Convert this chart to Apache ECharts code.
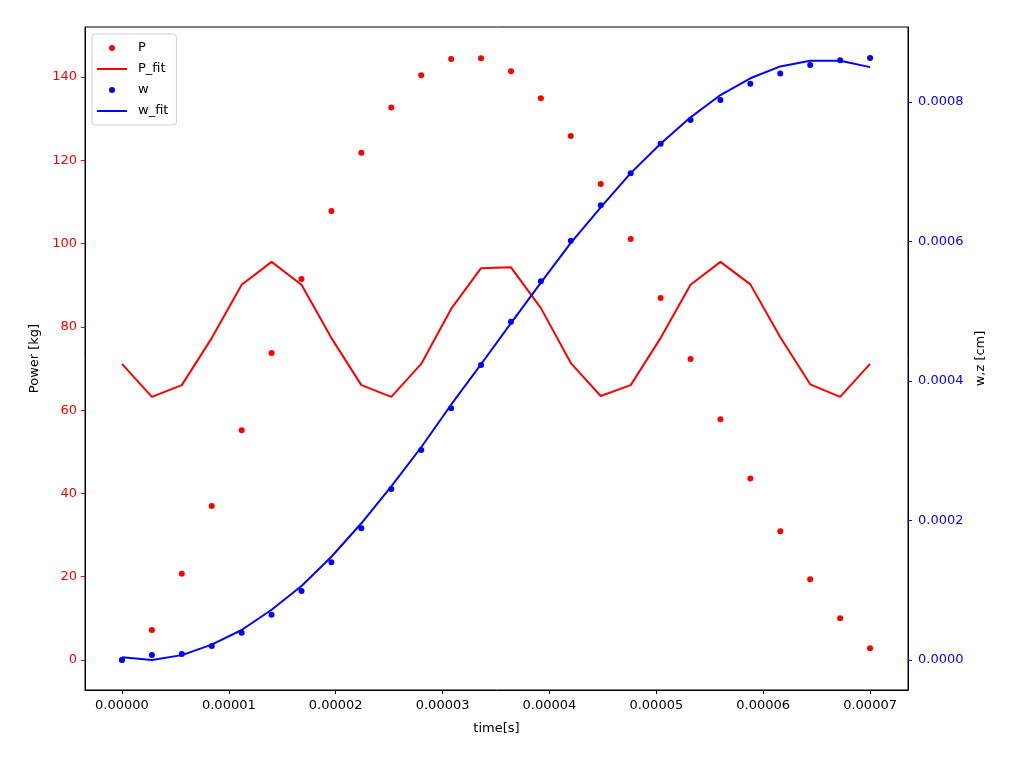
<!DOCTYPE html>
<html>
<head>
<meta charset="utf-8">
<title>Power / w fit</title>
<script src="https://cdn.jsdelivr.net/npm/echarts@6/dist/echarts.min.js"></script>
<style>
  html, body { margin: 0; padding: 0; background: #fff; }
  #chart { width: 1032px; height: 766px; }
</style>
</head>
<body>
<div id="chart"></div>
<script>
// 时间 (s)
const times = [0, 0.0000028, 0.0000056, 0.0000084, 0.0000112, 0.000014, 0.0000168, 0.0000196,
  0.0000224, 0.0000252, 0.000028, 0.0000308, 0.0000336, 0.0000364, 0.0000392, 0.000042,
  0.0000448, 0.0000476, 0.0000504, 0.0000532, 0.000056, 0.0000588, 0.0000616, 0.0000644,
  0.0000672, 0.00007]
// 左轴 Power [kg]
const pValues = [0, 7.2, 20.7, 37.0, 55.2, 73.7, 91.5, 107.8, 121.8, 132.7, 140.4, 144.3, 144.5,
  141.4, 134.9, 125.8, 114.3, 101.1, 86.9, 72.3, 57.8, 43.6, 30.9, 19.4, 10.0, 2.8]
const pFit = [71.1, 63.2, 66.0, 77.3, 90.1, 95.6, 90.1, 77.3, 66.0, 63.2, 71.1, 84.3, 94.1,
  94.3, 84.5, 71.3, 63.4, 66.0, 77.3, 90.1, 95.6, 90.2, 77.5, 66.2, 63.2, 71.1]
// 右轴 w,z [cm]
const wValues = [0, 0.000007, 0.0000086, 0.000020, 0.000039, 0.000065, 0.000099, 0.000140,
  0.000189, 0.000245, 0.000301, 0.000361, 0.000423, 0.000485, 0.000543, 0.000601, 0.000652,
  0.000698, 0.000740, 0.000774, 0.000803, 0.000826, 0.000841, 0.000853, 0.000860, 0.000863]
const wFit = [0.000004, 0, 0.000007, 0.000022, 0.000043, 0.000072, 0.000106, 0.000148,
  0.000196, 0.000249, 0.000305, 0.000366, 0.000424, 0.000483, 0.000541, 0.000598, 0.000649,
  0.000698, 0.000740, 0.000778, 0.000810, 0.000834, 0.000851, 0.000859, 0.000859, 0.000850]
// 刻度
const xTicks = [0, 0.00001, 0.00002, 0.00003, 0.00004, 0.00005, 0.00006, 0.00007]
const pTicks = [0, 20, 40, 60, 80, 100, 120, 140]
const wTicks = [0, 0.0002, 0.0004, 0.0006, 0.0008]

const zip = (xs, ys) => xs.map((x, i) => [x, ys[i]])

const font = 'DejaVu Sans'
const myChart = echarts.init(document.getElementById('chart'))

const option = {
  animation: false,
  textStyle: { fontFamily: font },
  grid: {
    left: 85, right: 124, top: 27, bottom: 76,
    show: true, borderColor: '#000', borderWidth: 1
  },
  legend: {
    orient: 'vertical',
    left: 92, top: 34,
    padding: [7, 8, 7, 4],
    itemWidth: 30, itemHeight: 6, itemGap: 7,
    borderColor: '#d0d0d0', borderWidth: 1, borderRadius: 3,
    backgroundColor: 'rgba(255,255,255,0.8)',
    textStyle: { fontFamily: font, fontSize: 13, color: '#000', lineHeight: 14, padding: [0, 0, 0, 6] },
    data: [
      { name: 'P', icon: 'circle' },
      // 折线只画线, 不画中间的点
      { name: 'P_fit', itemStyle: { opacity: 0 } },
      { name: 'w', icon: 'circle' },
      { name: 'w_fit', itemStyle: { opacity: 0 } }
    ]
  },
  xAxis: {
    type: 'value',
    min: -0.00000346, max: 0.00007355,
    name: 'time[s]', nameLocation: 'middle', nameGap: 32,
    nameTextStyle: { fontFamily: font, fontSize: 13, color: '#000' },
    splitLine: { show: false },
    axisLine: { show: true, onZero: false, lineStyle: { color: '#000' } },
    axisTick: { show: true, length: 4, customValues: xTicks, lineStyle: { color: '#000' } },
    axisLabel: {
      customValues: xTicks, margin: 9, fontSize: 13, color: '#000', fontFamily: font,
      formatter: v => v.toFixed(5)
    }
  },
  yAxis: [
    {
      type: 'value',
      position: 'left',
      min: -7.2, max: 152,
      name: 'Power [kg]', nameLocation: 'middle', nameGap: 44, nameRotate: 90,
      nameTextStyle: { fontFamily: font, fontSize: 13, color: '#000' },
      splitLine: { show: false },
      axisLine: { show: true, onZero: false, lineStyle: { color: '#000' } },
      axisTick: { show: true, length: 4, customValues: pTicks, lineStyle: { color: 'red' } },
      axisLabel: { customValues: pTicks, margin: 8, fontSize: 13, color: 'red', fontFamily: font }
    },
    {
      type: 'value',
      position: 'right',
      min: -0.000043, max: 0.0009075,
      name: 'w,z [cm]', nameLocation: 'middle', nameGap: 65, nameRotate: 90,
      nameTextStyle: { fontFamily: font, fontSize: 13, color: '#000' },
      splitLine: { show: false },
      axisLine: { show: true, onZero: false, lineStyle: { color: '#000' } },
      axisTick: { show: true, length: 4, customValues: wTicks, lineStyle: { color: 'blue' } },
      axisLabel: {
        customValues: wTicks, margin: 10, fontSize: 13, color: 'blue', fontFamily: font,
        formatter: v => v.toFixed(4)
      }
    }
  ],
  series: [
    {
      name: 'P', type: 'scatter', yAxisIndex: 0,
      symbolSize: 6, itemStyle: { color: 'red', opacity: 1 },
      data: zip(times, pValues)
    },
    {
      name: 'P_fit', type: 'line', yAxisIndex: 0,
      symbol: 'none', lineStyle: { color: 'red', width: 2 }, itemStyle: { color: 'red' },
      data: zip(times, pFit)
    },
    {
      name: 'w', type: 'scatter', yAxisIndex: 1,
      symbolSize: 6, itemStyle: { color: 'blue', opacity: 1 },
      data: zip(times, wValues)
    },
    {
      name: 'w_fit', type: 'line', yAxisIndex: 1,
      symbol: 'none', lineStyle: { color: 'blue', width: 2 }, itemStyle: { color: 'blue' },
      data: zip(times, wFit)
    }
  ]
}

myChart.setOption(option)
</script>
</body>
</html>
